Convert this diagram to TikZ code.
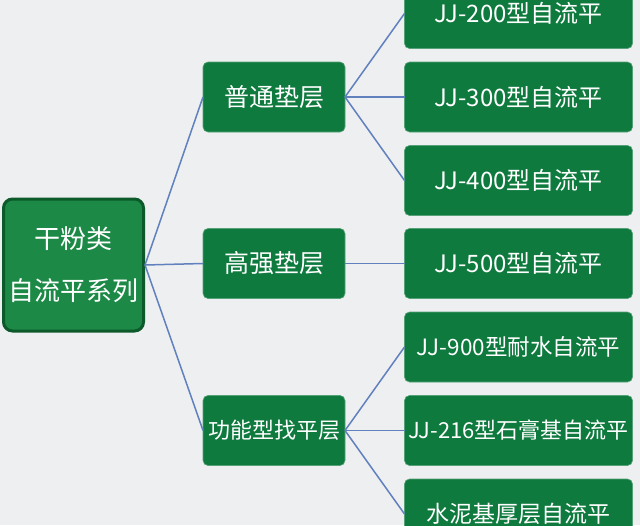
\documentclass[tikz,border=0pt]{standalone}
\usepackage{fontspec}
\setmainfont{Noto Sans CJK SC}
\definecolor{fondo}{RGB}{238,239,241}
\definecolor{verde}{RGB}{14,122,62}
\definecolor{verdeclaro}{RGB}{28,138,70}
\definecolor{verdeosc}{RGB}{12,90,42}
\definecolor{azul}{RGB}{96,128,190}
\newcommand{\medio}[4]{
	\node [mediobox, font=\fontsize{#4}{28}\selectfont] (#1) at (#2) {#3};
	}
\newcommand{\hoja}[4]{
	\node [hojabox, font=\fontsize{#4}{28}\selectfont] (#1) at (#2) {#3};
	}

\begin{document}
\begin{tikzpicture}[x=1pt,y=-1pt,
	raizbox/.style={draw=verdeosc, line width=3pt, fill=verdeclaro, rounded corners=9pt, minimum width=140pt, minimum height=132pt, text=white, align=center, font=\fontsize{26}{52}\selectfont, inner sep=0pt, outer sep=1.5pt},
	mediobox/.style={draw=verde!70!white, line width=0.6pt, fill=verde, rounded corners=5pt, minimum width=142pt, minimum height=70pt, text=white, inner sep=0pt, outer sep=0pt},
	hojabox/.style={mediobox, minimum width=228pt},
	rama/.style={draw=azul, line width=1.5pt}]
	\fill [fondo] (0,0) rectangle (640,525);
	\useasboundingbox (0,0) rectangle (640,525);
	\clip (0,0) rectangle (640,525);
	\node [raizbox] (raiz) at (73.5,265) {干粉类\\自流平系列};
	\medio{comun}{274,97}{普通垫层}{25}
	\medio{fuerte}{274,263.5}{高强垫层}{25}
	\medio{funcion}{274,430.5}{功能型找平层}{22}
	\hoja{h200}{518.5,13.5}{JJ-200型自流平}{24}
	\hoja{h300}{518.5,97}{JJ-300型自流平}{24}
	\hoja{h400}{518.5,180.5}{JJ-400型自流平}{24}
	\hoja{h500}{518.5,263.5}{JJ-500型自流平}{24}
	\hoja{h900}{518.5,347}{JJ-900型耐水自流平}{22.5}
	\hoja{h216}{518.5,430.5}{JJ-216型石膏基自流平}{22}
	\hoja{hcem}{518.5,514}{水泥基厚层自流平}{23}
	\draw [rama] (raiz.east) -- (comun.west);
	\draw [rama] (raiz.east) -- (fuerte.west);
	\draw [rama] (raiz.east) -- (funcion.west);
	\draw [rama] (comun.east) -- (h200.west);
	\draw [rama] (comun.east) -- (h300.west);
	\draw [rama] (comun.east) -- (h400.west);
	\draw [rama] (fuerte.east) -- (h500.west);
	\draw [rama] (funcion.east) -- (h900.west);
	\draw [rama] (funcion.east) -- (h216.west);
	\draw [rama] (funcion.east) -- (hcem.west);
\end{tikzpicture}
\end{document}
